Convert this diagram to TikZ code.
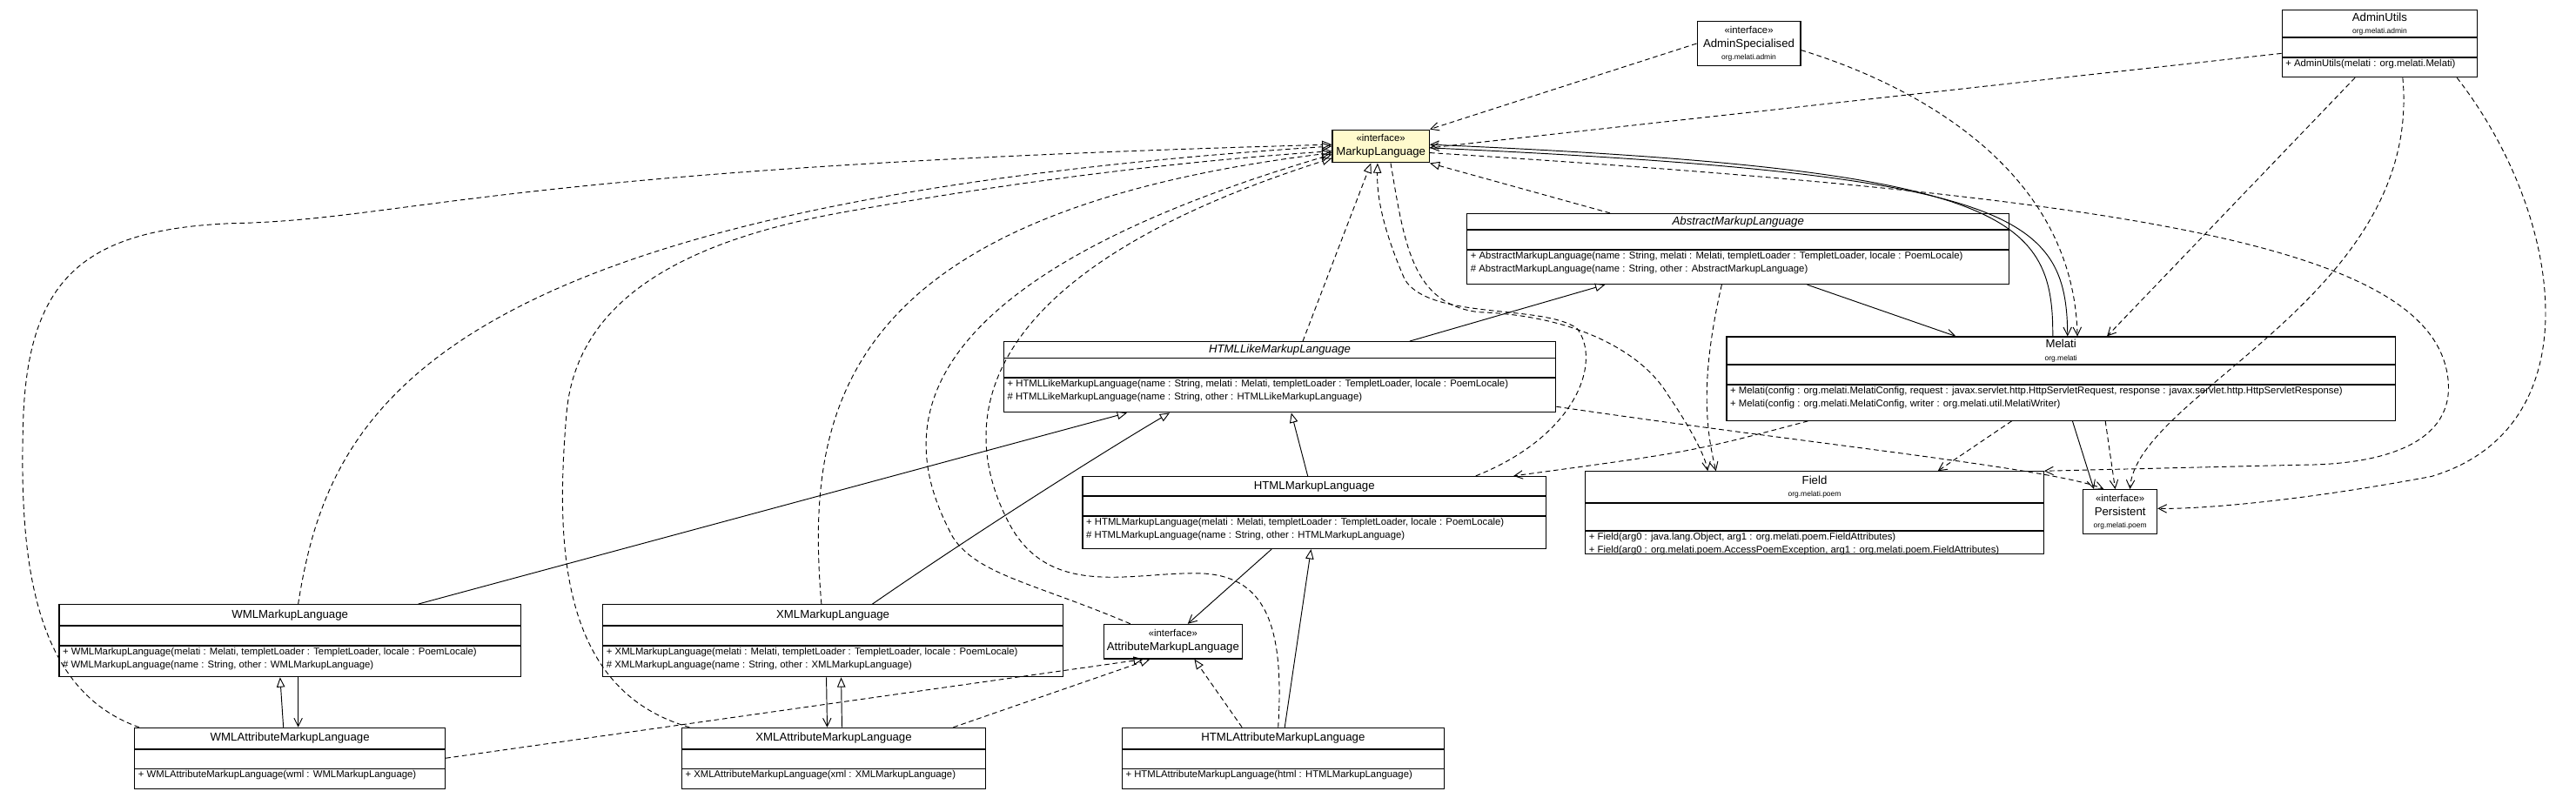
\documentclass[tikz,border=0pt]{standalone}
\usepackage{fontspec}
\setmainfont{Liberation Sans}
\usetikzlibrary{arrows.meta,fit}
\newcommand\nmf{\fontsize{7}{8.5}\selectfont}
\newcommand\mtf{\fontsize{6}{8}\selectfont}
\newcommand\pkf{\fontsize{4.5}{6}\selectfont}
\newcommand\umlcls[9]{%
  \node[box, fit={(#2,#3)(#4,#5)}] (#1) {};
  \draw[sep] (#2,#6) -- (#4,#6);
  \draw[sep] (#2,#7) -- (#4,#7);
  \node[txt, align=center, font=\nmf] at ({(#2+#4)/2},{(#3+#6)/2}) {#8};
  \node[txt, anchor=north west, align=left, font=\mtf] at (#2+2,#7+1) {#9};}
\newcommand\umlif[6]{%
  \node[box, fit={(#2,#3)(#4,#5)}, #6] (#1) {};}
\definecolor{mlfill}{RGB}{255,250,205}
\begin{document}
\begin{tikzpicture}[x=1pt,y=-1pt,
  box/.style={draw, line width=0.6pt, inner sep=0pt},
  sep/.style={line width=1pt},
  txt/.style={inner sep=0pt},
  con/.style={line width=0.5pt},
  dsh/.style={dash pattern=on 3pt off 2pt},
  real/.style={con, dsh, -{Triangle[open,length=6pt,width=5pt]}},
  gen/.style={con, -{Triangle[open,length=6pt,width=5pt]}},
  dep/.style={con, dsh, -{Straight Barb[length=5pt,width=5pt]}},
  assoc/.style={con, -{Straight Barb[length=5pt,width=5pt]}}]
\useasboundingbox[fill=white] (0,0) rectangle (1568,485.7);

% interfaces
\umlif{ml}{811}{79}{870}{99}{fill=mlfill}
\node[txt, align=center, font=\nmf] at (ml.center) {{\fontsize{6}{7}\selectfont «interface»}\\MarkupLanguage};
\umlif{as}{1033}{13}{1096}{40}{}
\node[txt, align=center, font=\nmf] at (as.center) {{\fontsize{6}{7}\selectfont «interface»}\\AdminSpecialised\\[-1pt]{\pkf org.melati.admin}};
\umlif{per}{1268}{298}{1313}{325}{}
\node[txt, align=center, font=\nmf] at (per.center) {{\fontsize{6}{7}\selectfont «interface»}\\Persistent\\[-1pt]{\pkf org.melati.poem}};
\umlif{attr}{672}{380}{756}{401}{}
\node[txt, align=center, font=\nmf] at (attr.center) {{\fontsize{6}{7}\selectfont «interface»}\\AttributeMarkupLanguage};

% classes
\umlcls{au}{1389}{6}{1508}{47}{23}{35}{AdminUtils\\[-1pt]{\pkf org.melati.admin}}{+ AdminUtils(melati : org.melati.Melati)}
\umlcls{aml}{893}{130}{1223}{173}{140}{152}{\textit{AbstractMarkupLanguage}}{+ AbstractMarkupLanguage(name : String, melati : Melati, templetLoader : TempletLoader, locale : PoemLocale)\\\# AbstractMarkupLanguage(name : String, other : AbstractMarkupLanguage)}
\umlcls{mel}{1051}{205}{1458}{256}{222}{234}{Melati\\[-1pt]{\pkf org.melati}}{+ Melati(config : org.melati.MelatiConfig, request : javax.servlet.http.HttpServletRequest, response : javax.servlet.http.HttpServletResponse)\\+ Melati(config : org.melati.MelatiConfig, writer : org.melati.util.MelatiWriter)}
\umlcls{hl}{611}{208}{947}{251}{218}{230}{\textit{HTMLLikeMarkupLanguage}}{+ HTMLLikeMarkupLanguage(name : String, melati : Melati, templetLoader : TempletLoader, locale : PoemLocale)\\\# HTMLLikeMarkupLanguage(name : String, other : HTMLLikeMarkupLanguage)}
\umlcls{htm}{659}{290}{941}{334}{302}{314}{HTMLMarkupLanguage}{+ HTMLMarkupLanguage(melati : Melati, templetLoader : TempletLoader, locale : PoemLocale)\\\# HTMLMarkupLanguage(name : String, other : HTMLMarkupLanguage)}
\umlcls{fld}{965}{287}{1244}{337}{306}{323}{Field\\[-1pt]{\pkf org.melati.poem}}{+ Field(arg0 : java.lang.Object, arg1 : org.melati.poem.FieldAttributes)\\+ Field(arg0 : org.melati.poem.AccessPoemException, arg1 : org.melati.poem.FieldAttributes)}
\umlcls{wml}{36}{368}{317}{412}{381}{393}{WMLMarkupLanguage}{+ WMLMarkupLanguage(melati : Melati, templetLoader : TempletLoader, locale : PoemLocale)\\\# WMLMarkupLanguage(name : String, other : WMLMarkupLanguage)}
\umlcls{xml}{367}{368}{647}{412}{381}{393}{XMLMarkupLanguage}{+ XMLMarkupLanguage(melati : Melati, templetLoader : TempletLoader, locale : PoemLocale)\\\# XMLMarkupLanguage(name : String, other : XMLMarkupLanguage)}
\umlcls{wa}{82}{443}{271}{480}{456}{468}{WMLAttributeMarkupLanguage}{+ WMLAttributeMarkupLanguage(wml : WMLMarkupLanguage)}
\umlcls{xa}{415}{443}{600}{480}{456}{468}{XMLAttributeMarkupLanguage}{+ XMLAttributeMarkupLanguage(xml : XMLMarkupLanguage)}
\umlcls{ha}{683}{443}{879}{480}{456}{468}{HTMLAttributeMarkupLanguage}{+ HTMLAttributeMarkupLanguage(html : HTMLMarkupLanguage)}

% connectors
\draw[dep] (as.west) -- (ml.north east);
\draw[dep] ([yshift=-6pt]au.west) -- ([yshift=-1pt]ml.east);
\draw[dep] ([yshift=-4pt]as.east) .. controls (1160,50) and (1262,100) .. ([xshift=10pt]mel.north);
\draw[dep] ([xshift=-15pt]au.south) -- ([xshift=28pt]mel.north);
\draw[dep] ([yshift=-4pt]ml.east) .. controls (1300,120) and (1480,150) .. (1490,230) .. controls (1495,270) and (1450,283) .. (1400,283) -- (fld.north east);
\draw[dep] ([xshift=14pt]au.south) .. controls (1475,180) and (1300,240) .. ([xshift=6pt]per.north);
\draw[dep] ([xshift=47pt]au.south) .. controls (1560,130) and (1580,260) .. (1480,290) .. controls (1400,305) and (1340,310) .. ([yshift=2pt]per.east);
\draw[assoc] ([xshift=-5pt]mel.north) .. controls (1250,130) and (1220,103) .. ([yshift=1pt]ml.east);
\draw[assoc] ([yshift=-1pt]ml.east) .. controls (1225,106) and (1258,130) .. ([xshift=4pt]mel.north);
\draw[real] ([xshift=-78pt]aml.north) -- (ml.south east);
\draw[real] ([xshift=14pt]hl.north) -- ([xshift=-6pt]ml.south);
\draw[real] ([xshift=-43pt]htm.north east) .. controls (960,265) and (975,220) .. (960,200) .. controls (940,185) and (870,195) .. (855,170) .. controls (842,140) and (838,120) .. ([xshift=-2pt]ml.south);
\draw[dep] ([xshift=6pt]ml.south) .. controls (855,150) and (860,185) .. (900,190) .. controls (960,192) and (1000,215) .. (1015,240) .. controls (1030,262) and (1038,278) .. ([xshift=-65pt]fld.north);
\draw[real] ([xshift=3pt]wa.north west) .. controls (20,420) and (12,340) .. (14,260) .. controls (16,170) and (50,140) .. (140,136) .. controls (250,134) and (300,102) .. ([yshift=1pt]ml.west);
\draw[real] ([xshift=5pt]wml.north) .. controls (200,250) and (260,125) .. (ml.west);
\draw[real] ([xshift=5pt]xa.north west) .. controls (340,420) and (338,330) .. (345,250) .. controls (352,180) and (420,145) .. (520,128) .. controls (650,105) and (750,96) .. ([yshift=-3pt]ml.west);
\draw[real] ([xshift=-7pt]xml.north) .. controls (490,250) and (510,130) .. ([yshift=-4pt]ml.west);
\draw[real] ([xshift=-26pt]attr.north) .. controls (630,355) and (595,350) .. (580,327) .. controls (555,280) and (520,180) .. ([yshift=-5pt]ml.west);
\draw[real] ([xshift=-3pt]ha.north) .. controls (782,380) and (770,350) .. (730,349) .. controls (690,348) and (640,365) .. (615,320) .. controls (585,265) and (580,170) .. ([yshift=3pt]ml.south west);
\draw[gen] ([xshift=-4pt]wa.north) -- ([xshift=-6pt]wml.south);
\draw[assoc] ([xshift=5pt]wml.south) -- ([xshift=5pt]wa.north);
\draw[gen] ([xshift=5pt]xa.north) -- ([xshift=5pt]xml.south);
\draw[assoc] ([xshift=-4pt]xml.south) -- ([xshift=-4pt]xa.north);
\draw[gen] ([xshift=1pt]ha.north) -- ([xshift=-2pt]htm.south);
\draw[real] ([xshift=-25pt]ha.north) -- ([xshift=13pt]attr.south);
\draw[real] (wa.east) -- ([xshift=-18pt]attr.south);
\draw[real] ([xshift=-20pt]xa.north east) -- ([xshift=-14pt]attr.south);
\draw[assoc] ([xshift=-26pt]htm.south) -- ([xshift=9pt]attr.north);
\draw[gen] ([xshift=78pt]wml.north) -- ([xshift=-93pt]hl.south);
\draw[gen] ([xshift=24pt]xml.north) .. controls (600,320) and (680,270) .. ([xshift=-67pt]hl.south);
\draw[gen] ([xshift=-4pt]htm.north) -- ([xshift=7pt]hl.south);
\draw[gen] ([xshift=79pt]hl.north) -- ([xshift=-81pt]aml.south);
\draw[assoc] ([xshift=42pt]aml.south) -- ([xshift=-64pt]mel.north);
\draw[dep] ([xshift=-10pt]aml.south) .. controls (1035,230) and (1038,260) .. ([xshift=-60pt]fld.north);
\draw[dep] ([xshift=-154pt]mel.south) .. controls (1030,275) .. ([xshift=-20pt]htm.north east);
\draw[dep] ([xshift=-30pt]mel.south) -- ([xshift=75pt]fld.north);
\draw[assoc] ([xshift=7pt]mel.south) -- ([xshift=-16pt]per.north);
\draw[dep] ([xshift=27pt]mel.south) -- ([xshift=-3pt]per.north);
\draw[dep] ([yshift=-18pt]hl.east) .. controls (1100,270) and (1250,285) .. ([xshift=-10pt]per.north);
\end{tikzpicture}
\end{document}
